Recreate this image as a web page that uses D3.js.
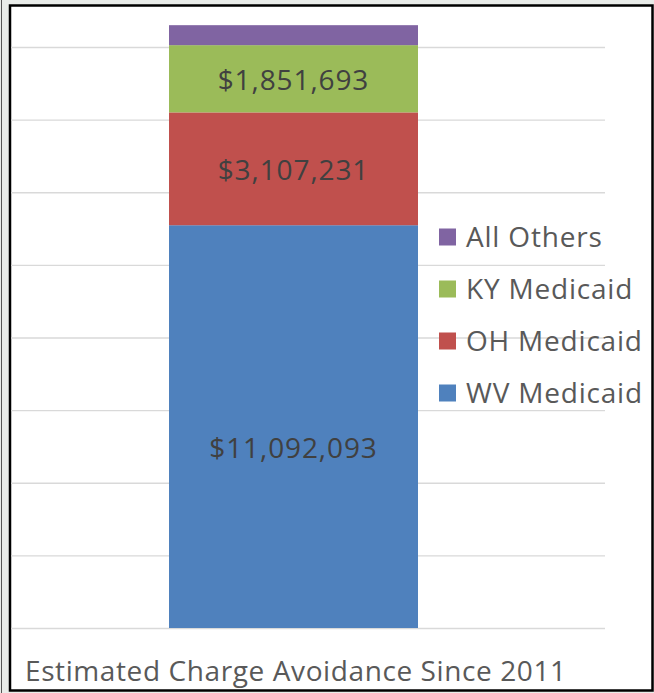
<!DOCTYPE html>
<html>
<head>
<meta charset="utf-8">
<script src="https://cdn.jsdelivr.net/npm/d3@7"></script>
<style>
  body { margin: 0; background: #e9ece9; }
  svg { display: block; }
  text { font-family: "Open Sans", Lato, sans-serif; }
</style>
</head>
<body>
<svg width="654" height="693"></svg>
<script>
const svg = d3.select("svg");
const width = +svg.attr("width");
const height = +svg.attr("height");

// data, bottom to top
const series = ["WV Medicaid", "OH Medicaid", "KY Medicaid", "All Others"];
const values = [11092093, 3107231, 1851693, 550000];
const colors = ["#4f81bd", "#c0504d", "#9bbb59", "#8064a2"];
const labels = ["$11,092,093", "$3,107,231", "$1,851,693", ""];
const yTicks = [0, 2e6, 4e6, 6e6, 8e6, 10e6, 12e6, 14e6, 16e6];
const title = "Estimated Charge Avoidance Since 2011";

// frame
svg.append("rect").attr("x", 0).attr("y", 0).attr("width", width).attr("height", height).attr("fill", "#e9ece9");
svg.append("line").attr("x1", 1.5).attr("x2", 1.5).attr("y1", 0).attr("y2", height).attr("stroke", "#555").attr("stroke-width", 1);
svg.append("rect")
  .attr("x", 10).attr("y", 5.5)
  .attr("width", 642.5).attr("height", 685)
  .attr("fill", "#fff")
  .attr("stroke", "#000")
  .attr("stroke-width", 2.5);

const plot = { left: -18, right: 605, top: 47, bottom: 628 };

const yScale = d3.scaleLinear().domain([0, 16e6]).range([plot.bottom, plot.top]);
const xScale = d3.scaleBand().domain(["2011"]).range([plot.left, plot.right]).paddingOuter(0.751).paddingInner(0);

const g = svg.append("g");

// gridlines
const yAxis = d3.axisLeft(yScale).tickValues(yTicks).tickSize(-(plot.right - 11)).tickFormat("");
const yAxisG = g.append("g").attr("transform", "translate(11,0)").call(yAxis);
yAxisG.select(".domain").remove();
yAxisG.selectAll(".tick line").attr("stroke", "#d9d9d9").attr("stroke-width", 1.3);

// stacked bar
const stack = [];
let acc = 0;
values.forEach((v, i) => {
  stack.push({ name: series[i], y0: acc, y1: acc + v, color: colors[i], label: labels[i] });
  acc += v;
});

g.selectAll("rect.seg")
  .data(stack)
  .enter()
  .append("rect")
  .attr("class", "seg")
  .attr("x", xScale("2011"))
  .attr("width", xScale.bandwidth())
  .attr("y", d => yScale(d.y1))
  .attr("height", d => yScale(d.y0) - yScale(d.y1))
  .attr("fill", d => d.color);

// the big label sits a bit below the middle in the original
g.selectAll("text.lbl")
  .data(stack.filter(d => d.label))
  .enter()
  .append("text")
  .attr("class", "lbl")
  .attr("x", xScale("2011") + xScale.bandwidth() / 2)
  .attr("y", (d, i) => (yScale(d.y0) + yScale(d.y1)) / 2 + (i === 0 ? 22 : 1))
  .attr("dy", "0.35em")
  .attr("text-anchor", "middle")
  .attr("fill", "#404040")
  .attr("font-size", 28)
  .attr("letter-spacing", 0.9)
  .text(d => d.label);

// legend, top to bottom
const legend = g.append("g").attr("transform", "translate(439,237)");
const legendItems = legend.selectAll("g")
  .data(stack.slice().reverse())
  .enter()
  .append("g")
  .attr("transform", (d, i) => `translate(0,${i * 52})`);
legendItems.append("rect")
  .attr("x", 0).attr("y", -8.5)
  .attr("width", 17).attr("height", 17)
  .attr("fill", d => d.color);
legendItems.append("text")
  .attr("x", 27)
  .attr("dy", "0.35em")
  .attr("fill", "#595959")
  .attr("font-size", 28)
  .attr("letter-spacing", 0.8)
  .text(d => d.name);

// title
svg.append("text")
  .attr("x", 25)
  .attr("y", 681)
  .attr("fill", "#595959")
  .attr("font-size", 28)
  .attr("letter-spacing", 0.6)
  .text(title);
</script>
</body>
</html>
